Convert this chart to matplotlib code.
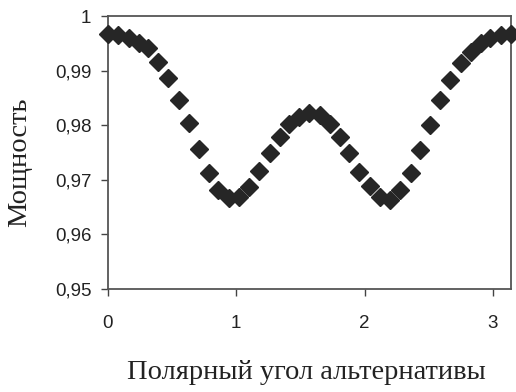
from matplotlib import pyplot as plt

# polar angle of the alternative (rad) and power
angle = [0.00, 0.08, 0.16, 0.24, 0.31, 0.39, 0.47, 0.55, 0.63, 0.71,
         0.79, 0.86, 0.94, 1.02, 1.10, 1.18, 1.26, 1.34, 1.41, 1.49,
         1.57, 1.65, 1.73, 1.81, 1.88, 1.96, 2.04, 2.12, 2.20, 2.28,
         2.36, 2.43, 2.51, 2.59, 2.67, 2.75, 2.83, 2.91, 2.98, 3.06, 3.14]
power = [0.9967, 0.9965, 0.9960, 0.9951, 0.9941, 0.9916, 0.9886, 0.9846, 0.9804, 0.9756,
         0.9712, 0.9681, 0.9667, 0.9668, 0.9687, 0.9716, 0.9749, 0.9778, 0.9802, 0.9815,
         0.9822, 0.9819, 0.9802, 0.9778, 0.9749, 0.9714, 0.9689, 0.9668, 0.9663, 0.9681,
         0.9712, 0.9755, 0.9800, 0.9846, 0.9883, 0.9914, 0.9934, 0.9951, 0.9960, 0.9965,
         0.9967]

x_ticks = [0, 1, 2, 3]
y_ticks = [0.95, 0.96, 0.97, 0.98, 0.99, 1.0]
y_tick_labels = ["0,95", "0,96", "0,97", "0,98", "0,99", "1"]

fig = plt.figure(figsize=(5.16, 3.92), dpi=100)
ax = fig.add_axes([0.2093, 0.2628, 0.7810, 0.6960])

ax.plot(angle, power, linestyle="none", marker="D", markersize=9.5,
        color="#262626", clip_on=False, zorder=3)

ax.set_xlim(0, 3.1416)
ax.set_ylim(0.95, 1.0)
ax.set_xticks(x_ticks)
ax.set_xticklabels([str(t) for t in x_ticks])
ax.set_yticks(y_ticks)
ax.set_yticklabels(y_tick_labels)
ax.tick_params(direction="out", length=5, width=1, color="#444444",
               labelsize=13.5, pad=7)
for label in ax.get_xticklabels() + ax.get_yticklabels():
    label.set_family("Liberation Sans")
    label.set_color("#222222")
ax.tick_params(axis="x", pad=14)

for spine in ax.spines.values():
    spine.set_color("#555555")
    spine.set_linewidth(1.3)

# axis titles in serif, as in the scan
fig.text(0.593, 0.05, "Полярный угол альтернативы", family="Liberation Serif",
         fontsize=20.5, ha="center", va="center", color="#222222")
fig.text(0.038, 0.585, "Мощность", family="Liberation Serif", fontsize=20.5,
         rotation=90, ha="center", va="center", color="#222222")

fig.savefig("out.png", dpi=100)
